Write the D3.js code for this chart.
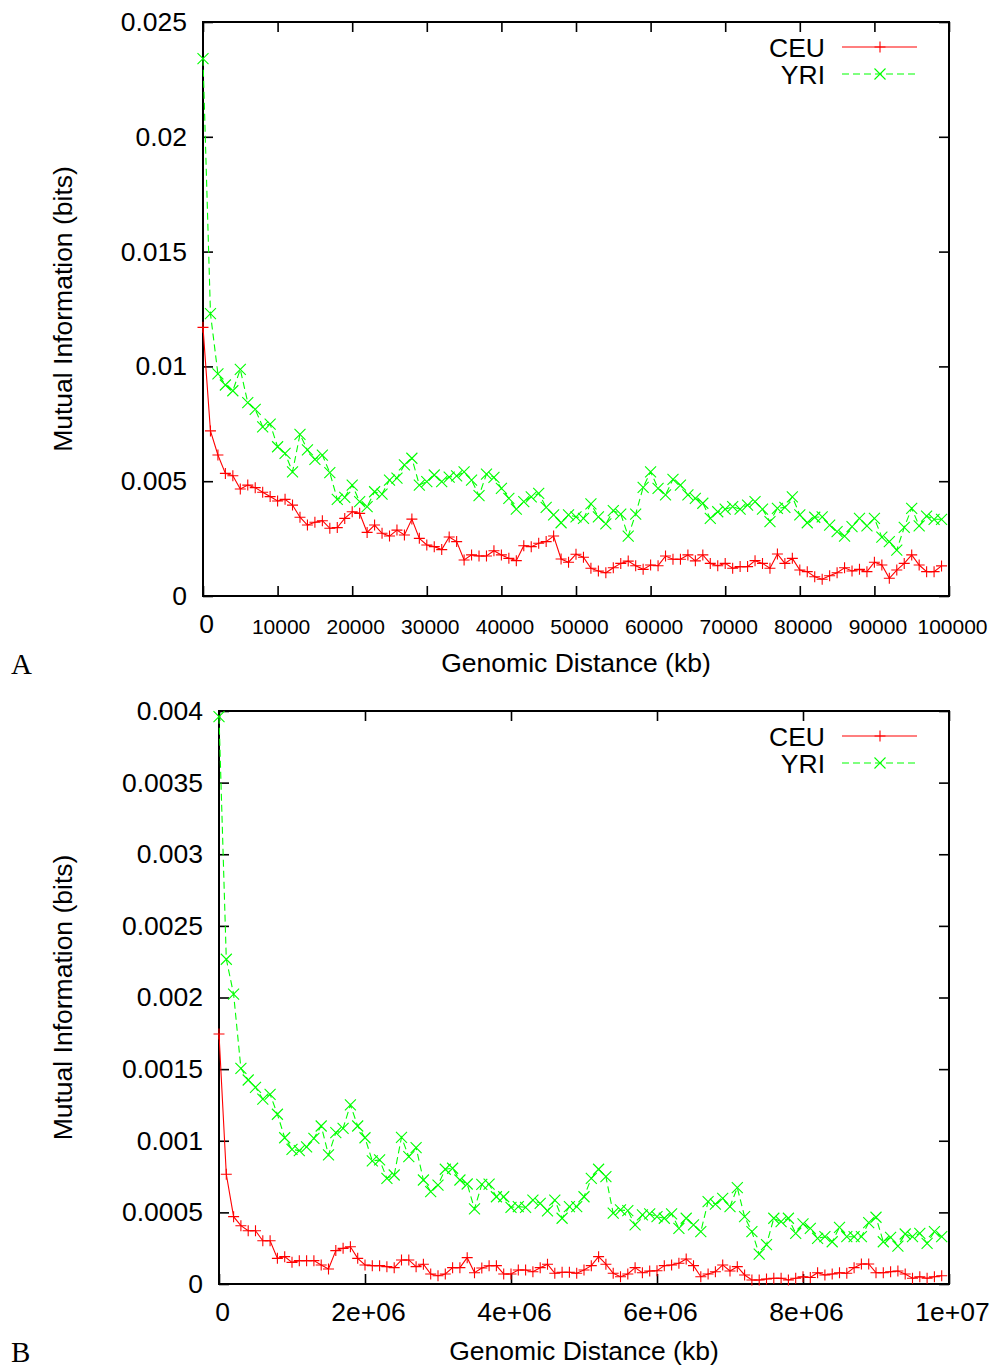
<!DOCTYPE html>
<html>
<head>
<meta charset="utf-8">
<script src="https://cdnjs.cloudflare.com/ajax/libs/d3/7.8.5/d3.min.js"></script>
<style>
  html, body { margin: 0; padding: 0; background: #fff; }
  svg { display: block; }
</style>
</head>
<body>
<svg id="chart" width="992" height="1367"></svg>
<script>
// ---------------- DATA ----------------
const seriesNames = ["CEU", "YRI"];
const seriesColors = ["#ff0000", "#00ff00"];

// Panel A: genomic distance (kb)
const distA = [0,1000,2000,3000,4000,5000,6000,7000,8000,9000,10000,11000,12000,13000,14000,15000,16000,17000,18000,19000,
  20000,21000,22000,23000,24000,25000,26000,27000,28000,29000,30000,31000,32000,33000,34000,35000,36000,37000,38000,39000,
  40000,41000,42000,43000,44000,45000,46000,47000,48000,49000,50000,51000,52000,53000,54000,55000,56000,57000,58000,59000,
  60000,61000,62000,63000,64000,65000,66000,67000,68000,69000,70000,71000,72000,73000,74000,75000,76000,77000,78000,79000,
  80000,81000,82000,83000,84000,85000,86000,87000,88000,89000,90000,91000,92000,93000,94000,95000,96000,97000,98000,99000];
const ceuA = [0.0117,0.00719,0.00614,0.00534,0.00524,0.00466,0.00483,0.00472,0.00452,0.00433,
  0.00414,0.00421,0.00396,0.00343,0.00309,0.00321,0.00328,0.00295,0.00298,0.00338,
  0.00367,0.0036,0.00277,0.00309,0.00273,0.00261,0.00287,0.00266,0.00335,0.00251,
  0.00222,0.00215,0.00202,0.00257,0.00237,0.00157,0.00179,0.00174,0.00174,0.00197,
  0.00179,0.00164,0.00154,0.00219,0.00215,0.0023,0.00237,0.00261,0.00161,0.00147,
  0.00182,0.00169,0.00121,0.00109,0.00101,0.00123,0.00142,0.00152,0.00132,0.00116,
  0.00135,0.00132,0.00174,0.0016,0.0016,0.00179,0.00153,0.00179,0.00142,0.00132,
  0.00142,0.00121,0.00128,0.00128,0.00154,0.00142,0.00121,0.00183,0.00142,0.00164,
  0.00113,0.00106,0.00084,0.00073,0.00088,0.00101,0.00123,0.00109,0.00116,0.00106,
  0.00147,0.00135,0.00077,0.00113,0.00142,0.00179,0.00135,0.00106,0.00106,0.00131];
const yriA = [0.0234,0.0123,0.00967,0.00919,0.00894,0.00987,0.00842,0.00813,0.00737,0.00749,
  0.0065,0.00621,0.00541,0.00704,0.00636,0.00595,0.00614,0.00537,0.00421,0.0043,
  0.00483,0.00411,0.00389,0.00454,0.00444,0.00505,0.00513,0.00571,0.006,0.00483,
  0.00498,0.00527,0.00498,0.00518,0.00523,0.00541,0.00505,0.00437,0.00531,0.00517,
  0.00469,0.00425,0.00378,0.00411,0.00432,0.00447,0.00386,0.00353,0.00319,0.00353,
  0.00345,0.00338,0.00401,0.00345,0.00314,0.00372,0.00357,0.00261,0.00357,0.00473,
  0.00541,0.00469,0.0044,0.00508,0.00483,0.0044,0.00425,0.00404,0.00338,0.00367,
  0.00378,0.00389,0.00378,0.00396,0.00411,0.00378,0.00324,0.00382,0.00386,0.00432,
  0.00353,0.00319,0.00343,0.00345,0.00309,0.0028,0.00261,0.00302,0.00338,0.00305,
  0.00338,0.00256,0.00237,0.002,0.00299,0.00382,0.00305,0.00348,0.00334,0.00334];
const xTicksA = [0,10000,20000,30000,40000,50000,60000,70000,80000,90000,100000];
const xTickLabelsA = ["0","10000","20000","30000","40000","50000","60000","70000","80000","90000","100000"];
const yTicksA = [0,0.005,0.01,0.015,0.02,0.025];
const yTickLabelsA = ["0","0.005","0.01","0.015","0.02","0.025"];

// Panel B: genomic distance (kb)
const distB = [0,100000,200000,300000,400000,500000,600000,700000,800000,900000,
  1000000,1100000,1200000,1300000,1400000,1500000,1600000,1700000,1800000,1900000,
  2000000,2100000,2200000,2300000,2400000,2500000,2600000,2700000,2800000,2900000,
  3000000,3100000,3200000,3300000,3400000,3500000,3600000,3700000,3800000,3900000,
  4000000,4100000,4200000,4300000,4400000,4500000,4600000,4700000,4800000,4900000,
  5000000,5100000,5200000,5300000,5400000,5500000,5600000,5700000,5800000,5900000,
  6000000,6100000,6200000,6300000,6400000,6500000,6600000,6700000,6800000,6900000,
  7000000,7100000,7200000,7300000,7400000,7500000,7600000,7700000,7800000,7900000,
  8000000,8100000,8200000,8300000,8400000,8500000,8600000,8700000,8800000,8900000,
  9000000,9100000,9200000,9300000,9400000,9500000,9600000,9700000,9800000,9900000];
const ceuB = [0.001745,0.000766,0.00047,0.000407,0.000372,0.000372,0.000302,0.000302,0.000179,0.000191,
  0.000151,0.000163,0.000163,0.000163,0.000133,0.000105,0.000233,0.000249,0.00026,0.000179,
  0.000133,0.000128,0.000128,0.000121,0.000114,0.000168,0.000168,0.000121,0.000138,0.00007,
  0.000058,0.00007,0.000114,0.000114,0.000184,0.000079,0.000112,0.000127,0.000128,0.00007,
  0.00007,0.000098,0.000098,0.000086,0.000114,0.000138,0.000075,0.000082,0.000082,0.000075,
  0.000098,0.000128,0.000191,0.000138,0.000075,0.000051,0.00007,0.000114,0.000079,0.000091,
  0.000093,0.000128,0.000133,0.000145,0.000175,0.000128,0.000051,0.00007,0.000086,0.000133,
  0.000091,0.000121,0.000063,0.000028,0.000028,0.000035,0.00004,0.00004,0.000028,0.00004,
  0.000051,0.000045,0.000079,0.000063,0.00007,0.000079,0.000075,0.000114,0.00014,0.00014,
  0.000079,0.000079,0.000086,0.000091,0.00007,0.00004,0.000051,0.00004,0.000051,0.000058];
const yriB = [0.00396,0.002267,0.002024,0.001506,0.001424,0.001373,0.001291,0.001324,0.001185,0.001021,
  0.00094,0.000931,0.000958,0.001017,0.001103,0.000901,0.001056,0.001087,0.00125,0.001103,
  0.001021,0.000859,0.000866,0.000738,0.000761,0.001024,0.000889,0.000952,0.000726,0.000645,
  0.000691,0.000801,0.000808,0.000726,0.000698,0.000524,0.000695,0.000697,0.000609,0.000609,
  0.000535,0.00054,0.000535,0.000586,0.000563,0.00051,0.000586,0.000459,0.00054,0.00054,
  0.000609,0.000738,0.000801,0.000749,0.000494,0.000517,0.000512,0.000412,0.000482,0.000489,
  0.00047,0.000459,0.000489,0.000389,0.000459,0.000412,0.000365,0.000575,0.000558,0.000598,
  0.00054,0.000672,0.00047,0.000365,0.000209,0.000275,0.000459,0.000435,0.000459,0.000354,
  0.000419,0.000389,0.000319,0.00033,0.000295,0.000396,0.00033,0.00033,0.00033,0.000428,
  0.000466,0.000295,0.000326,0.000265,0.000349,0.00033,0.000354,0.000284,0.000365,0.00033];
const xTicksB = [0,2000000,4000000,6000000,8000000,10000000];
const xTickLabelsB = ["0","2e+06","4e+06","6e+06","8e+06","1e+07"];
const yTicksB = [0,0.0005,0.001,0.0015,0.002,0.0025,0.003,0.0035,0.004];
const yTickLabelsB = ["0","0.0005","0.001","0.0015","0.002","0.0025","0.003","0.0035","0.004"];

const xTitle = "Genomic Distance (kb)";
const yTitle = "Mutual Information (bits)";

// ---------------- DRAW ----------------
const SANS = '"Liberation Sans", Arial, Helvetica, sans-serif';
const SERIF = '"Liberation Serif", "Times New Roman", serif';
const FS = 26.5;
const svg = d3.select("#chart");

function sans(sel, size) {
  return sel.style("font-family", SANS).style("font-size", size + "px").style("fill", "#000");
}

function drawPanel(cfg) {
  const { left, right, top, bottom, dist, ceu, yri, xTicks, xLabels, yTicks, yLabels, xMax, yMax, letter, smallX } = cfg;
  const x = d3.scaleLinear().domain([0, xMax]).range([left, right]);
  const y = d3.scaleLinear().domain([0, yMax]).range([bottom, top]);
  const g = svg.append("g");

  const fmtX = (d) => xLabels[xTicks.indexOf(d)];
  const fmtY = (d) => yLabels[yTicks.indexOf(d)];

  const axB = g.append("g").attr("transform", `translate(0,${bottom})`)
    .call(d3.axisBottom(x).tickValues(xTicks).tickFormat(fmtX).tickSize(-10).tickPadding(18));
  const axT = g.append("g").attr("transform", `translate(0,${top})`)
    .call(d3.axisTop(x).tickValues(xTicks).tickFormat("").tickSize(-10));
  const axL = g.append("g").attr("transform", `translate(${left},0)`)
    .call(d3.axisLeft(y).tickValues(yTicks).tickFormat(fmtY).tickSize(-10).tickPadding(16));
  const axR = g.append("g").attr("transform", `translate(${right},0)`)
    .call(d3.axisRight(y).tickValues(yTicks).tickFormat("").tickSize(-10));
  [axB, axT, axL, axR].forEach(a => {
    a.select(".domain").remove();
    a.selectAll(".tick line").attr("stroke", "#000").attr("stroke-width", 1.6);
  });
  sans(axB.selectAll("text"), FS).attr("dx", 3).attr("dy", "0.71em");
  if (smallX) {
    axB.selectAll("text").each(function () {
      const t = d3.select(this).text();
      if (t.length > 1) d3.select(this).style("font-size", "21px").attr("dy", "0.95em");
    });
  }
  sans(axL.selectAll("text"), FS);

  // frame
  g.append("rect").attr("x", left).attr("y", top).attr("width", right - left).attr("height", bottom - top)
    .attr("fill", "none").attr("stroke", "#000").attr("stroke-width", 2);

  // titles
  sans(g.append("text"), FS).attr("x", (left + right) / 2).attr("y", bottom + 76)
    .attr("text-anchor", "middle").text(xTitle);
  sans(g.append("text"), FS).attr("transform", `translate(72,${(top + bottom) / 2}) rotate(-90)`)
    .attr("text-anchor", "middle").text(yTitle);
  g.append("text").attr("x", 11).attr("y", bottom + 78)
    .style("font-family", SERIF).style("font-size", "29px").style("fill", "#000").text(letter);

  const series = [
    { name: seriesNames[0], vals: ceu, color: seriesColors[0], dash: null, marker: "plus" },
    { name: seriesNames[1], vals: yri, color: seriesColors[1], dash: "7,4", marker: "cross" }
  ];

  const line = d3.line().x(d => x(d[0])).y(d => y(d[1]));
  const markerPath = (type, cx, cy) => {
    const s = 5.5;
    if (type === "plus") return `M${cx - s},${cy}H${cx + s}M${cx},${cy - s}V${cy + s}`;
    return `M${cx - s},${cy - s}L${cx + s},${cy + s}M${cx - s},${cy + s}L${cx + s},${cy - s}`;
  };

  series.forEach(s => {
    const pts = dist.map((dv, i) => [dv, s.vals[i]]);
    g.append("path").datum(pts).attr("d", line).attr("fill", "none")
      .attr("stroke", s.color).attr("stroke-width", 1.1)
      .attr("stroke-dasharray", s.dash);
    g.append("g").selectAll("path").data(pts).join("path")
      .attr("d", d => markerPath(s.marker, x(d[0]), y(d[1])))
      .attr("fill", "none").attr("stroke", s.color).attr("stroke-width", 1.1);
  });

  // legend
  series.forEach((s, i) => {
    const cy = top + 25 + i * 27;
    sans(g.append("text"), FS).attr("x", 825).attr("y", cy + 9.5).attr("text-anchor", "end").text(s.name);
    g.append("line").attr("x1", 842).attr("x2", 917).attr("y1", cy).attr("y2", cy)
      .attr("stroke", s.color).attr("stroke-width", 1.1).attr("stroke-dasharray", s.dash);
    g.append("path").attr("d", markerPath(s.marker, 880, cy)).attr("fill", "none")
      .attr("stroke", s.color).attr("stroke-width", 1.1);
  });
}

drawPanel({ left: 203, right: 949, top: 22, bottom: 596, dist: distA, ceu: ceuA, yri: yriA,
  xTicks: xTicksA, xLabels: xTickLabelsA, yTicks: yTicksA, yLabels: yTickLabelsA,
  xMax: 100000, yMax: 0.025, letter: "A", smallX: true });
drawPanel({ left: 219, right: 949, top: 711, bottom: 1284, dist: distB, ceu: ceuB, yri: yriB,
  xTicks: xTicksB, xLabels: xTickLabelsB, yTicks: yTicksB, yLabels: yTickLabelsB,
  xMax: 10000000, yMax: 0.004, letter: "B", smallX: false });
</script>
</body>
</html>
